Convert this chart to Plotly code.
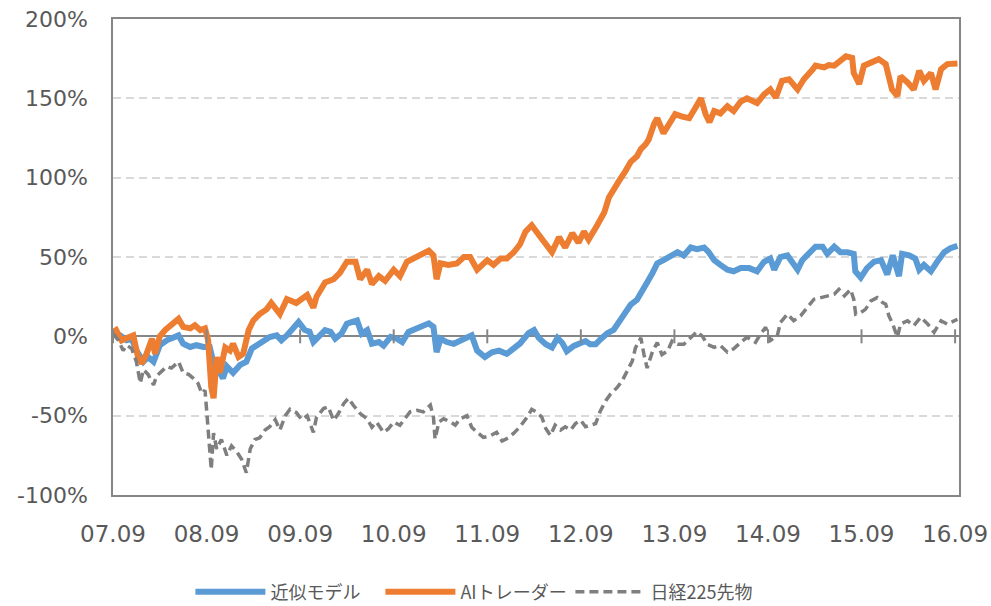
import plotly.graph_objects as go

# x positions are months elapsed since Sep 2007
tick_months = [0, 12, 24, 36, 48, 60, 72, 84, 96, 108]
tick_labels = ["07.09", "08.09", "09.09", "10.09", "11.09", "12.09", "13.09", "14.09", "15.09", "16.09"]
y_tickvals = [-100, -50, 0, 50, 100, 150, 200]
y_ticklabels = ["-100%", "-50%", "0%", "50%", "100%", "150%", "200%"]

series_names = ["近似モデル", "AIトレーダー", "日経225先物"]

approx_x = [0, 0.9, 1.75, 2.4, 3.0, 3.9, 4.5, 5.2, 5.6, 6.0, 6.9, 7.5, 8.4, 9.0, 9.9, 10.7, 11.6, 12.4, 12.9, 13.5,
            14.1, 14.6, 15.4, 16.3, 17.1, 17.8, 18.4, 19.3, 20.1, 21.0, 21.6, 22.3, 22.9, 23.8, 24.6, 25.2, 25.7, 26.4,
            27.2, 27.9, 28.5, 29.3, 30.0, 30.6, 31.3, 31.9, 32.6, 33.2, 34.1, 34.7, 35.6, 36.4, 37.1, 37.9, 38.8, 39.6,
            40.5, 41.1, 41.5, 42.0, 42.8, 43.7, 44.5, 45.4, 46.0, 46.7, 47.7, 48.6, 49.5, 50.5, 51.4, 52.2, 53.3, 54.0,
            54.6, 55.5, 56.3, 57.0, 57.6, 58.2, 59.1, 59.9, 60.6, 61.2, 61.9, 62.5, 63.4, 64.2, 64.9, 65.7, 66.4, 67.2,
            67.9, 68.5, 69.2, 69.8, 70.6, 71.5, 72.4, 73.2, 74.1, 74.9, 75.8, 76.4, 77.1, 77.9, 78.8, 79.6, 80.5, 81.6,
            82.6, 83.5, 84.3, 84.8, 85.6, 86.5, 87.1, 87.8, 88.4, 89.3, 90.1, 91.0, 91.6, 92.5, 93.3, 94.2, 95.0, 95.2,
            95.9, 96.7, 97.6, 98.5, 99.3, 100.0, 100.8, 101.2, 102.1, 102.9, 103.4, 104.0, 104.9, 105.7, 106.6, 107.4,
            108.3]
approx_y = [1.7, 0.6, -2.5, -1.5, -9, -16, -13, -16, -11, -5.6, -2.5, -1.5, 0.6, -4.6, -6.7, -5.6, -6.7, -6.7, -17, -21,
            -26.5, -19, -23, -18, -16, -7.7, -5.6, -2.5, -0.4, 0.6, -2.5, 0.6, 3.7, 9, 4, 3, -3.6, -0.4,
            3.9, 2.8, -1.5, 1.7, 8, 9, 10, 1.7, 3.9, -4.7, -3.6, -5.8, -0.4, -1.5, -3.6, 2.8, 4.9, 6,
            8.2, 6, -10, -1.5, -3.6, -4.7, -2.6, -0.4, 0.6, -9, -13, -10, -9, -11, -8, -4.5, 2, 4,
            -1, -5, -7, -1, -4, -9.4, -6, -4, -3, -5, -5, -2, 2, 4, 9, 14.6, 20, 23,
            30, 34, 40, 46, 48, 51, 53, 51, 56, 55, 56, 53, 48, 45, 42, 41, 43, 43,
            41, 47, 49, 42, 50, 51, 47, 42, 48, 52, 56.5, 56.5, 52, 56.5, 53, 53, 52, 41,
            37, 43, 47, 48, 39, 51, 38, 52, 51, 49, 42, 45, 41, 47, 53, 55.5,
            57]

ai_x = [0, 0.4, 1.1, 2.2, 2.6, 3.2, 3.7, 4.3, 5.0, 5.4, 6.0, 6.7, 7.5, 8.4, 9.0, 9.9, 10.5, 11.2, 11.8, 12.2,
        12.6, 12.9, 13.3, 13.7, 14.4, 15.0, 15.4, 16.1, 16.7, 17.4, 18.0, 18.8, 19.7, 20.3, 21.4, 22.3, 23.5, 24.4,
        24.9, 25.7, 26.1, 27.2, 28.3, 29.1, 30.0, 31.1, 31.7, 32.6, 33.2, 34.1, 34.9, 36.0, 36.8, 37.7, 38.8, 39.8,
        40.5, 41.1, 41.5, 42.0, 43.0, 44.1, 45.0, 45.8, 46.7, 48.0, 48.8, 49.7, 50.5, 51.4, 52.2, 52.9, 53.7, 54.6,
        55.7, 56.3, 57.2, 58.0, 58.9, 59.7, 60.4, 61.0, 62.1, 63.0, 63.6, 64.2, 64.9, 65.7, 66.4, 67.2, 67.7, 68.3,
        68.7, 69.4, 69.8, 70.6, 71.3, 72.1, 73.0, 73.9, 74.7, 75.4, 76.0, 76.5, 77.1, 77.9, 78.8, 79.6, 80.5, 81.3,
        82.6, 83.5, 84.3, 85.0, 85.8, 86.7, 87.8, 88.6, 89.7, 90.1, 91.2, 91.8, 92.5, 93.3, 94.0, 94.8, 95.0, 95.7,
        96.3, 97.2, 98.2, 99.1, 99.9, 100.6, 101.0, 101.9, 102.7, 103.4, 104.0, 104.9, 105.5, 106.2, 107.0, 108.3]
ai_y = [2.7, 4, -2.5, 0, 0.6, -13, -17, -11, -1.5, -11, 0, 4, 7, 11, 6, 5, 7, 4, 5, -2.5,
        -32, -39, -13, -23, -7, -9, -4.6, -13, -11, 4, 10, 14, 17, 21, 14, 23.5, 21, 24,
        26, 18, 25, 34, 36, 40, 47, 47, 36, 42, 33, 38, 35, 42, 38, 47, 50, 52,
        54, 51, 36, 46, 45, 46, 50, 50, 42, 48, 45, 49, 49, 53, 58, 66, 70, 64,
        56, 53, 62.5, 56, 65, 59, 66, 61, 70, 78, 87.5, 93, 98, 104, 110, 113.5, 118, 121,
        124, 134, 137.5, 128, 133, 140, 138.5, 137.5, 144, 150, 140, 135, 142, 140.5, 145, 142, 148, 150,
        147, 152.5, 155.6, 150.4, 161, 162, 155.6, 162, 168, 170.6, 169.5, 171, 170.6, 174, 176.5, 175.5, 166, 159,
        170.6, 172.5, 174.7, 171.6, 155.6, 151.5, 164, 160, 155.6, 167.3, 161, 166, 155.6, 168.4, 171.6, 172]

nikkei_x = [0, 0.7, 1.3, 1.75, 2.4, 3.0, 3.5, 3.9, 4.5, 5.2, 5.6, 6.2, 6.9, 7.5, 8.4, 9.0, 9.7, 10.3, 10.9, 11.4,
            11.8, 12.0, 12.2, 12.4, 12.6, 12.9, 13.3, 13.9, 14.6, 15.2, 15.9, 16.5, 17.1, 17.6, 18.2, 18.8, 19.5,
            20.1, 20.8, 21.4, 22.1, 22.7, 23.5, 24.2, 24.9, 25.7, 26.1, 27.0, 27.6, 28.3, 28.9, 29.6, 30.2, 30.8,
            31.7, 32.6, 33.2, 33.8, 34.7, 35.3, 36.0, 36.8, 37.5, 38.1, 39.0, 39.8, 40.7, 41.1, 41.3, 41.8, 42.4,
            43.3, 43.9, 44.5, 45.4, 46.0, 46.7, 47.5, 48.4, 49.2, 49.9, 50.7, 51.4, 52.2, 53.1, 53.7, 54.4, 55.0,
            55.5, 56.1, 56.7, 57.4, 58.0, 58.7, 59.3, 60.0, 60.6, 61.2, 61.9, 62.5, 63.2, 63.8, 64.7, 65.3, 65.9,
            66.6, 67.0, 67.7, 68.1, 68.5, 69.2, 69.8, 70.4, 71.1, 71.7, 72.4, 73.2, 74.1, 74.9, 75.6, 76.2, 77.1,
            77.9, 78.8, 79.6, 80.5, 81.3, 82.4, 83.05, 83.7, 84.3, 85.2, 85.6, 86.5, 87.3, 88.2, 89.0, 89.9, 90.8,
            91.6, 92.5, 93.1, 93.8, 94.6, 95.0, 95.25, 95.9, 96.5, 97.2, 98.0, 98.7, 99.1, 99.5, 100.0, 100.6,
            101.0, 101.9, 102.7, 103.6, 104.5, 105.3, 106.2, 107.0, 108.3]
nikkei_y = [1.7, -2.5, -9, -5.6, -7.7, -16, -29.6, -21, -24, -30.6, -25, -22, -19, -20, -16, -23, -24, -26.5, -29.6, -36,
            -34, -46, -59, -69, -84, -61, -71, -65, -75, -69, -73, -77.5, -86, -71, -65, -64, -59,
            -57, -52.5, -59, -50, -46, -48, -52.5, -50, -60.5, -51, -45.5, -44.4, -53, -48.7, -42.3, -39, -43.3,
            -48.7, -52, -57.3, -54, -60.5, -58.4, -54, -56, -51, -47.6, -46.6, -47.6, -43.3, -51, -64.8, -54, -52,
            -54, -56, -52, -50, -57.3, -60.5, -63.7, -62.7, -60.5, -66, -64, -61, -57, -51, -46, -48, -51,
            -58, -62.5, -56, -59, -57, -59, -55, -53, -57, -56, -55, -47, -40.6, -36.5, -32, -28, -22,
            -15.6, -7.3, -1, -11.5, -20, -9.4, -4, -11.5, -9.4, -3, -5, -5, -1, 3, 0, -5, -6.9,
            -5.8, -10, -7.9, -3.8, -0.6, -3.8, 1.5, 5.6, -2.7, 0.4, 8.8, 14, 9.8, 13, 18, 23.4, 24.4,
            25.5, 26.5, 29.6, 25.5, 29.6, 23.4, 14, 15, 17, 22.3, 24.4, 21.3, 20.3, 13, 7.7, -0.6,
            7.7, 9.8, 6.7, 12, 7.7, 2.5, 9.8, 7.7, 10.8]

BLUE = "#5B9BD5"
ORANGE = "#ED7D31"
GRAY = "#7F7F7F"
AXIS = "#868686"
TEXT = "#595959"
X_RANGE = [0, 108.5]

fig = go.Figure()
fig.add_trace(go.Scatter(x=approx_x, y=approx_y, mode="lines", name=series_names[0],
                         line=dict(color=BLUE, width=6)))
fig.add_trace(go.Scatter(x=ai_x, y=ai_y, mode="lines", name=series_names[1],
                         line=dict(color=ORANGE, width=6)))
fig.add_trace(go.Scatter(x=nikkei_x, y=nikkei_y, mode="lines", name=series_names[2],
                         line=dict(color=GRAY, width=3.5, dash="9px,5px")))

# cross-style tick marks on the 0% axis line at each year label
for m in tick_months:
    fig.add_shape(type="line", xref="x", yref="y", x0=m, x1=m,
                  ysizemode="pixel", yanchor=0, y0=-7, y1=7,
                  line=dict(color=AXIS, width=2), layer="above")

fig.update_layout(
    width=991, height=606,
    margin=dict(l=113, r=32, t=19, b=111, autoexpand=False),
    paper_bgcolor="white", plot_bgcolor="white",
    font=dict(family="DejaVu Sans", size=22, color=TEXT),
    showlegend=True,
    legend=dict(orientation="h", x=0.0915, y=-0.204, xanchor="left", yanchor="middle",
                font=dict(family="Noto Sans CJK JP", size=18, color=TEXT),
                itemwidth=70, entrywidth=105, entrywidthmode="pixels",
                bgcolor="rgba(0,0,0,0)"),
    xaxis=dict(range=X_RANGE, tickvals=tick_months, ticktext=tick_labels,
               showgrid=False, zeroline=False, showline=True, mirror=True,
               linecolor=AXIS, linewidth=1.5,
               ticks="outside", ticklen=18, tickcolor="rgba(0,0,0,0)",
               tickfont=dict(size=23)),
    yaxis=dict(range=[-100, 200], tickvals=y_tickvals, ticktext=y_ticklabels,
               showgrid=True, gridcolor="#D9D9D9", gridwidth=1.5, griddash="8px,5px",
               zeroline=True, zerolinecolor=AXIS, zerolinewidth=2,
               showline=True, mirror=True, linecolor=AXIS, linewidth=1.5,
               ticks="outside", ticklen=19, tickcolor="rgba(0,0,0,0)",
               tickfont=dict(size=22)),
)

fig.write_html("out.html")
